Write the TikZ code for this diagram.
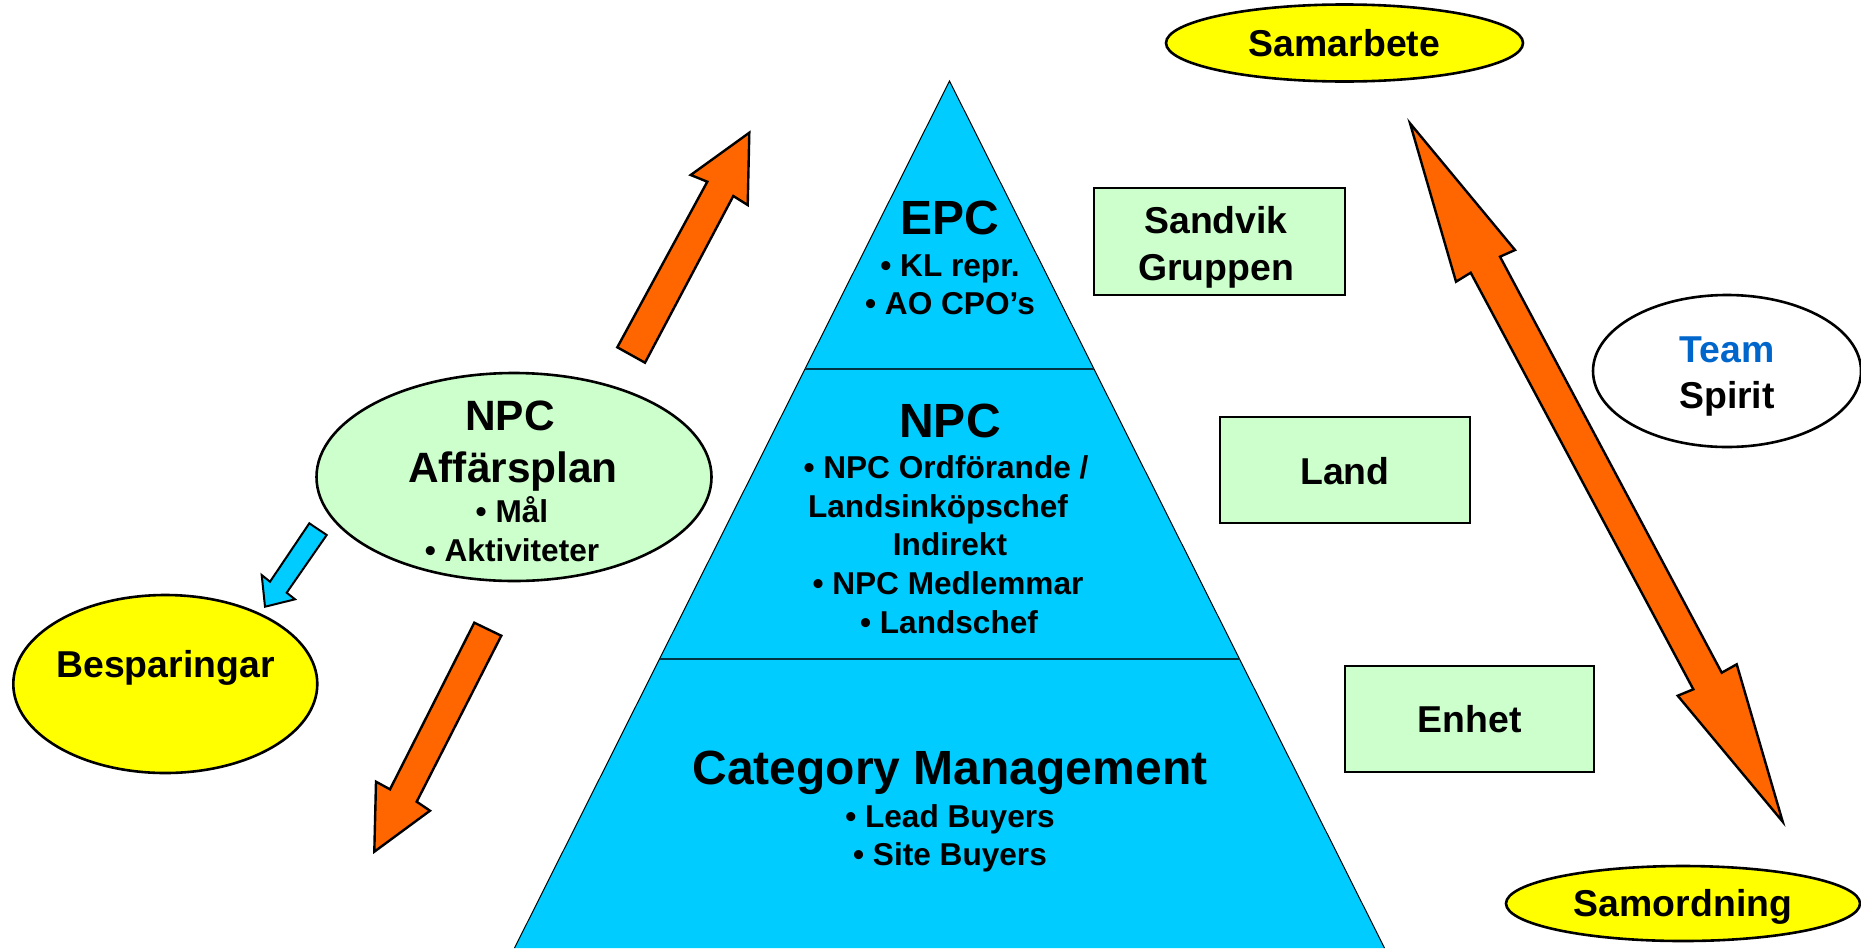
\documentclass[tikz,border=0pt]{standalone}
\usepackage{fontspec}
\setmainfont{Liberation Sans}
\usetikzlibrary{shapes.geometric}
\definecolor{pyr}{HTML}{00CCFF}
\definecolor{orng}{HTML}{FF6600}
\definecolor{yel}{HTML}{FFFF00}
\definecolor{lgreen}{HTML}{CCFFCC}
\definecolor{teamblue}{HTML}{0066CC}
\definecolor{divline}{HTML}{003344}
\begin{document}
\begin{tikzpicture}[x=0.5pt,y=-0.5pt,
  every node/.style={inner sep=0pt, outer sep=0pt},
  title/.style={anchor=base, font=\fontsize{24pt}{28pt}\selectfont\bfseries},
  item/.style={anchor=base, font=\fontsize{15.8pt}{18pt}\selectfont\bfseries},
  lbl/.style={anchor=base, font=\fontsize{18.7pt}{22pt}\selectfont\bfseries},
  mid/.style={anchor=base, font=\fontsize{21.2pt}{25pt}\selectfont\bfseries},
  box/.style={draw=black, line width=1.2pt, fill=lgreen, rectangle},
  oval/.style={draw=black, line width=1.3pt, ellipse},
  blockarrow/.style={draw=black, line width=1.2pt, line join=miter, fill=orng},
]
\useasboundingbox (0,0) rectangle (1861,948);

% pyramid
\coordinate (apex) at (949.5,81);
\coordinate (bl) at (514.5,948);
\coordinate (br) at (1384.5,948);
\coordinate (e1) at (805,369);
\coordinate (e2) at (1094,369);
\coordinate (n1) at (659.5,659);
\coordinate (n2) at (1239.5,659);
\fill[pyr] (apex) -- (br) -- (bl) -- cycle;
\draw[line width=0.5pt] (bl) -- (apex) -- (br);
\draw[divline, line width=1.1pt] (e1) -- (e2);
\draw[divline, line width=1.1pt] (n1) -- (n2);

% pyramid texts
\node[title] (epc) at (950,234.8) {EPC};
\node[item] (kl) at (950,276.3) {• KL repr.};
\node[item] (ao) at (950,314.6) {• AO CPO’s};
\node[title] (npc) at (950,437.3) {NPC};
\node[item] (ord) at (946,478.8) {• NPC Ordförande /};
\node[item] (lik) at (938,517.1) {Landsinköpschef};
\node[item] (ind) at (950,555.3) {Indirekt};
\node[item] (med) at (948,594.3) {• NPC Medlemmar};
\node[item] (lch) at (949,633.8) {• Landschef};
\node[title] (cat) at (950,784.8) {Category Management};
\node[item] (lead) at (950,827.1) {• Lead Buyers};
\node[item] (site) at (950,865.5) {• Site Buyers};

% boxes
\node[box, minimum width=125.5pt, minimum height=53.5pt] (sandvik) at (1219.5,241.5) {};
\node[lbl] (sandvikA) at (1216,233.4) {Sandvik};
\node[lbl] (sandvikB) at (1216,280.1) {Gruppen};
\node[box, minimum width=125pt, minimum height=53pt] (land) at (1345,470) {};
\node[lbl] (landT) at (1345,484.4) {Land};
\node[box, minimum width=124.5pt, minimum height=53pt] (enhet) at (1469.5,719) {};
\node[lbl] (enhetT) at (1469.5,732.4) {Enhet};

% ellipses
\node[oval, fill=yel, minimum width=178.5pt, minimum height=38.5pt] (samarbete) at (1344.5,43) {};
\node[lbl] (samarbeteT) at (1344.5,56.7) {Samarbete};
\node[oval, fill=yel, minimum width=177pt, minimum height=37.5pt] (samordning) at (1683,903.5) {};
\node[lbl] (samordningT) at (1683,916.5) {Samordning};
\node[oval, fill=yel, minimum width=152pt, minimum height=89pt] (besp) at (165.3,684) {};
\node[lbl] (bespT) at (165.5,677.4) {Besparingar};
\node[oval, fill=white, minimum width=134pt, minimum height=76pt] (team) at (1727,371) {};
\node[lbl, text=teamblue] (teamA) at (1727,362.4) {Team};
\node[lbl] (teamB) at (1727,408.4) {Spirit};
\node[oval, fill=lgreen, minimum width=197.5pt, minimum height=104pt] (aff) at (514,477) {};
\node[mid] (affA) at (510,430.2) {NPC};
\node[mid] (affB) at (513,482.7) {Affärsplan};
\node[item] (affC) at (512,522.1) {• Mål};
\node[item] (affD) at (512,561.3) {• Aktiviteter};

% block arrows
\draw[blockarrow] (617.3,347.3) -- (707.3,181.7) -- (690.7,175) -- (749.3,132.7)
  -- (747.7,205) -- (733.3,196) -- (645,362.7) -- cycle;
\draw[blockarrow] (474.3,622.7) -- (501.3,635.7) -- (416.7,801.7) -- (430,810.7)
  -- (374.3,851.7) -- (376,781.7) -- (390,789.3) -- cycle;
\draw[blockarrow, fill=pyr, line width=1pt] (309.3,523.3) -- (326.7,535) -- (286.7,592.7)
  -- (295,599.3) -- (265,606.7) -- (261.7,575) -- (270,581.7) -- cycle;
\draw[blockarrow] (1410,123.3) -- (1515,250) -- (1500,256.7) -- (1721.7,672.7)
  -- (1736.7,664.3) -- (1782.7,821.7) -- (1677.7,695.7) -- (1693.3,689.3)
  -- (1470.7,272.7) -- (1456,281.7) -- cycle;
\end{tikzpicture}
\end{document}
